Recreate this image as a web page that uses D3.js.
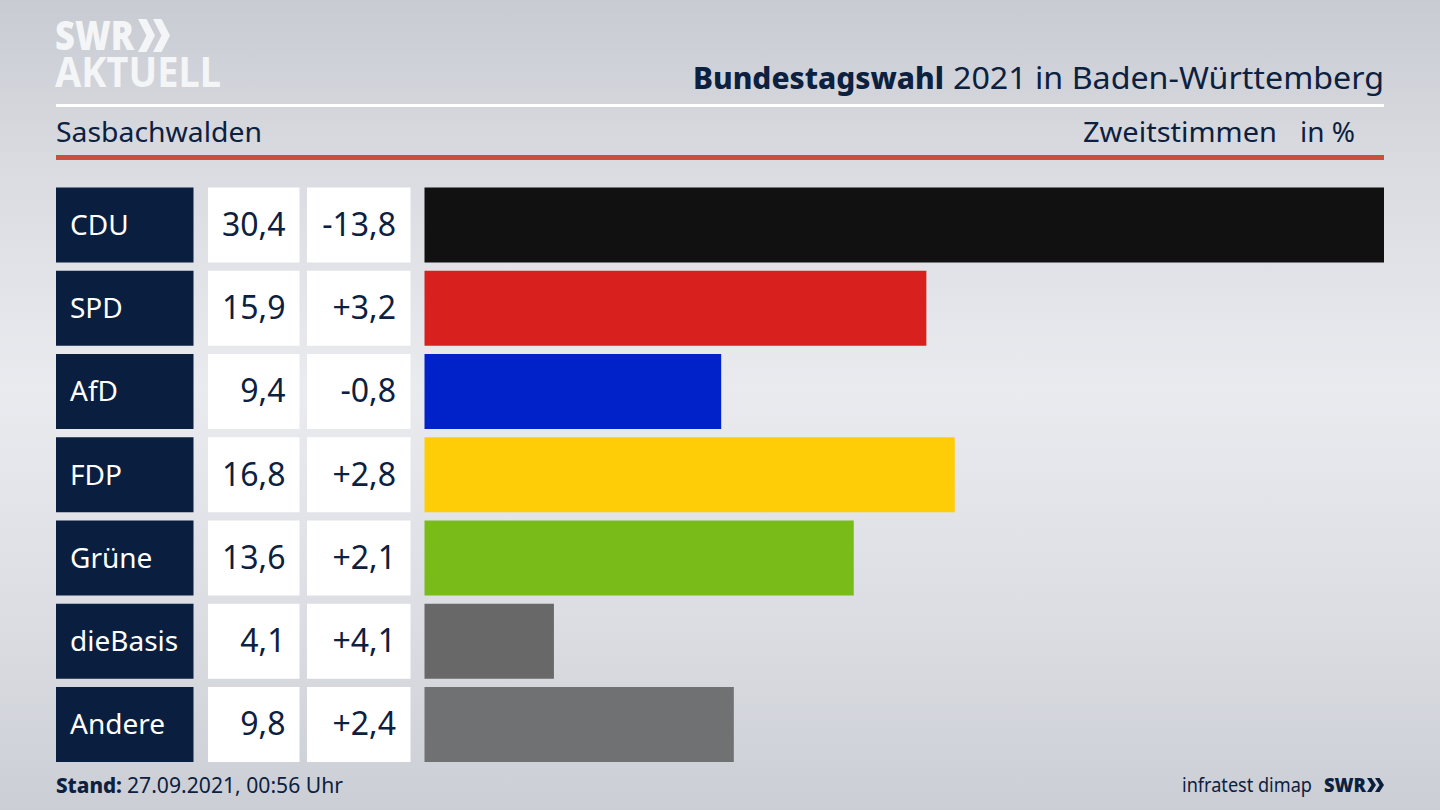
<!DOCTYPE html>
<html>
<head>
<meta charset="utf-8">
<script src="https://cdn.jsdelivr.net/npm/d3@7"></script>
<style>
html, body { margin: 0; padding: 0; background: #d8dadf; overflow: hidden; }
svg { display: block; }
text { font-family: "Noto Sans", sans-serif; fill: #0c2040; }
</style>
</head>
<body>
<div id="chart"></div>
<script>
// Zweitstimmen Sasbachwalden
var parties = ["CDU", "SPD", "AfD", "FDP", "Grüne", "dieBasis", "Andere"];
var shares = [30.4, 15.9, 9.4, 16.8, 13.6, 4.1, 9.8];
var shareLabels = ["30,4", "15,9", "9,4", "16,8", "13,6", "4,1", "9,8"];
var changeLabels = ["-13,8", "+3,2", "-0,8", "+2,8", "+2,1", "+4,1", "+2,4"];
var colors = ["#111111", "#d8201f", "#0022c8", "#ffcc08", "#79bc1a", "#686868", "#707172"];

var w = 1440,
    h = 810;

var navy = "#0a1f40";

var svg = d3.select("#chart")
            .append("svg")
            .attr("width", w)
            .attr("height", h);

var defs = svg.append("defs");

var bg = defs.append("linearGradient")
             .attr("id", "bg")
             .attr("x1", 0).attr("y1", 0)
             .attr("x2", 0).attr("y2", 1);
bg.append("stop").attr("offset", "0%").attr("stop-color", "#c8cbd2");
bg.append("stop").attr("offset", "20%").attr("stop-color", "#d9dbe0");
bg.append("stop").attr("offset", "48%").attr("stop-color", "#eaebef");
bg.append("stop").attr("offset", "75%").attr("stop-color", "#dcdee3");
bg.append("stop").attr("offset", "100%").attr("stop-color", "#cbced5");

svg.append("rect")
   .attr("width", w)
   .attr("height", h)
   .attr("fill", "url(#bg)");

// a text squeezed to the width it has in the picture
function label(parent, str, xPos, yPos, size, width, weight) {
    return parent.append("text")
                 .attr("x", xPos)
                 .attr("y", yPos)
                 .attr("font-size", size)
                 .attr("font-weight", weight || 400)
                 .attr("textLength", width)
                 .attr("lengthAdjust", "spacingAndGlyphs")
                 .text(str);
}

function chevrons(g, xPos, yPos, size, cw, step, color) {
    [0, step].forEach(function(k){
        var x0 = xPos + k,
            t = cw * 0.5;
        g.append("path")
         .attr("d", "M" + x0 + "," + yPos + "l" + t + ",0L" + (x0 + cw) + "," + (yPos + size / 2)
               + "L" + (x0 + t) + "," + (yPos + size) + "l" + (-t) + ",0L" + (x0 + t) + "," + (yPos + size / 2) + "z")
         .attr("fill", color);
    });
}

// logo top left
var logo = svg.append("g");

label(logo, "SWR", 55, 50, 41, 79, 900).style("fill", "#f4f5f6");
label(logo, "AKTUELL", 55, 87, 41, 166, 700).style("fill", "#f4f5f6");

chevrons(logo, 138, 19, 33, 17, 15, "#f4f5f6");

// title block
label(svg, "Bundestagswahl", 693, 89, 31, 251, 800);
label(svg, "2021 in Baden-Württemberg", 953, 89, 31, 431);

svg.append("rect")
   .attr("x", 56).attr("y", 104)
   .attr("width", 1328).attr("height", 3)
   .attr("fill", "#ffffff");

label(svg, "Sasbachwalden", 56, 142, 28, 206);
label(svg, "Zweitstimmen", 1083, 142, 28, 194);
label(svg, "in %", 1300, 142, 28, 55);

svg.append("rect")
   .attr("x", 56).attr("y", 155)
   .attr("width", 1328).attr("height", 5)
   .attr("fill", "#c9503c");

// scales
var y = d3.scaleBand()
          .domain(parties)
          .range([187.5, 762])
          .paddingInner(0.0991);

var x = d3.scaleLinear()
          .domain([0, 30.4])
          .range([424.5, 1384]);

var rows = svg.selectAll(".row")
              .data(parties)
              .enter()
              .append("g")
              .attr("class", "row")
              .attr("transform", function(d){ return "translate(0," + y(d) + ")"; });

var bh = y.bandwidth();

rows.append("rect")
    .attr("x", 56)
    .attr("width", 137.5)
    .attr("height", bh)
    .attr("fill", navy);

rows.append("rect")
    .attr("x", 208)
    .attr("width", 91.5)
    .attr("height", bh)
    .attr("fill", "#ffffff");

rows.append("rect")
    .attr("x", 307)
    .attr("width", 103.5)
    .attr("height", bh)
    .attr("fill", "#ffffff");

rows.append("rect")
    .attr("x", x(0))
    .attr("width", function(d, i){ return x(shares[i]) - x(0); })
    .attr("height", bh)
    .attr("fill", function(d, i){ return colors[i]; });

rows.append("text")
    .attr("x", 70)
    .attr("y", bh / 2 + 10)
    .attr("font-size", 28)
    .style("fill", "#ffffff")
    .text(function(d){ return d; });

rows.append("text")
    .attr("x", 285.5)
    .attr("y", bh / 2 + 11)
    .attr("text-anchor", "end")
    .attr("font-size", 32)
    .text(function(d, i){ return shareLabels[i]; });

rows.append("text")
    .attr("x", 396)
    .attr("y", bh / 2 + 11)
    .attr("text-anchor", "end")
    .attr("font-size", 32)
    .text(function(d, i){ return changeLabels[i]; });

// footer
label(svg, "Stand:", 56, 793, 22, 66, 800);
label(svg, "27.09.2021, 00:56 Uhr", 127, 793, 22, 216);
label(svg, "infratest dimap", 1182, 792, 20, 130);
label(svg, "SWR", 1324, 792, 20, 42, 900);

chevrons(svg, 1367, 778, 14, 9, 8, navy);
</script>
</body>
</html>
